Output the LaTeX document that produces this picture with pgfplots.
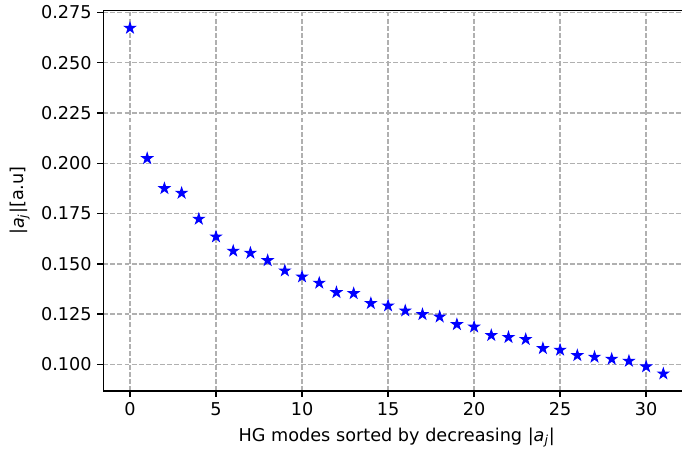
\documentclass[border=0pt]{standalone}
\usepackage{fontspec}
\setmainfont{DejaVu Sans}
\usepackage{pgfplots}
\pgfplotsset{compat=1.18}
\usetikzlibrary{calc}

\definecolor{gridgray}{HTML}{B0B0B0}

% filled five-pointed star, like matplotlib's '*'
\pgfdeclareplotmark{fstar}{%
  \pgfpathmoveto{\pgfpointpolar{90}{\pgfplotmarksize}}%
  \pgfpathlineto{\pgfpointpolar{126}{0.382\pgfplotmarksize}}%
  \pgfpathlineto{\pgfpointpolar{162}{\pgfplotmarksize}}%
  \pgfpathlineto{\pgfpointpolar{198}{0.382\pgfplotmarksize}}%
  \pgfpathlineto{\pgfpointpolar{234}{\pgfplotmarksize}}%
  \pgfpathlineto{\pgfpointpolar{270}{0.382\pgfplotmarksize}}%
  \pgfpathlineto{\pgfpointpolar{306}{\pgfplotmarksize}}%
  \pgfpathlineto{\pgfpointpolar{342}{0.382\pgfplotmarksize}}%
  \pgfpathlineto{\pgfpointpolar{18}{\pgfplotmarksize}}%
  \pgfpathlineto{\pgfpointpolar{54}{0.382\pgfplotmarksize}}%
  \pgfpathclose
  \pgfusepathqfillstroke
}

\begin{document}
\begin{tikzpicture}
  \begin{axis}[
      name=ax,
      scale only axis,
      width=352pt, height=228.5pt,
      xmin=-1.55, xmax=32.55,
      ymin=0.0868, ymax=0.2761,
      xtick={0,5,...,30},
      ytick={0.100,0.125,...,0.276},
      yticklabel style={/pgf/number format/.cd, fixed, fixed zerofill, precision=3},
      /pgf/number format/assume math mode=true,
      tick label style={font=\fontsize{10.6}{12}\selectfont},
      label style={font=\fontsize{10.6}{12}\selectfont},
      tick align=outside,
      tick pos=left,
      major tick length=3.5pt,
      every tick/.style={black, line width=0.8pt},
      axis line style={black, line width=0.8pt},
      grid=major,
      major grid style={gridgray, line width=0.8pt, dash pattern=on 2.96pt off 1.28pt},
      xlabel={HG modes sorted by decreasing |\textit{a}\textsubscript{\textit{j}}|},
      ylabel={|\textit{a}\textsubscript{\textit{j}}|[a.u]},
      clip=false
    ]
    \addplot[only marks, mark=fstar, mark size=3.3pt, blue,
      mark options={fill=blue, draw=blue, line width=0.6pt}] coordinates {
      (0, 0.2672) (1, 0.2024) (2, 0.1875) (3, 0.1852) (4, 0.1723)
      (5, 0.1635) (6, 0.1564) (7, 0.1554) (8, 0.1517) (9, 0.1466)
      (10, 0.1436) (11, 0.1405) (12, 0.1358) (13, 0.1353) (14, 0.1304)
      (15, 0.1292) (16, 0.1267) (17, 0.1249) (18, 0.1237) (19, 0.1199)
      (20, 0.1187) (21, 0.1145) (22, 0.1135) (23, 0.1125) (24, 0.1080)
      (25, 0.1072) (26, 0.1045) (27, 0.1037) (28, 0.1027) (29, 0.1017)
      (30, 0.0989) (31, 0.0954)
    };
  \end{axis}
  % the reference is cropped on the right, just before the right spine
  \pgfresetboundingbox
  \path[use as bounding box] ($(ax.south west)+(-62pt,-34.2pt)$)
    rectangle ($(ax.south west)+(347.2pt,234.6pt)$);
\end{tikzpicture}
\end{document}
